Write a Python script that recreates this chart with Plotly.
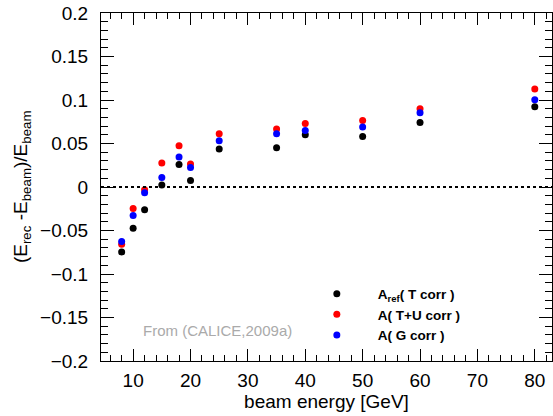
import plotly.graph_objects as go

# ==================== Data ====================
energy = [8, 10, 12, 15, 18, 20, 25, 35, 40, 50, 60, 80]

# A_ref ( T corr )
a_ref_t = [-0.0746, -0.0473, -0.0262, 0.0022, 0.0259, 0.0075, 0.0436, 0.0451, 0.0602, 0.0581, 0.0742, 0.0923]
# A ( T+U corr )
a_tu = [-0.0657, -0.0247, -0.0032, 0.0275, 0.0474, 0.0263, 0.0612, 0.0666, 0.0731, 0.0765, 0.0900, 0.1127]
# A ( G corr )
a_g = [-0.0627, -0.0328, -0.0067, 0.0110, 0.0344, 0.0225, 0.0532, 0.0612, 0.0650, 0.0689, 0.0854, 0.1003]

series_names = ["A<sub>ref</sub>( T corr )", "A( T+U corr )", "A( G corr )"]
series_colors = ["black", "red", "blue"]

FONT = "Liberation Sans, Arial, Helvetica, sans-serif"

fig = go.Figure()

for vals, name, col in zip([a_ref_t, a_tu, a_g], series_names, series_colors):
    fig.add_trace(go.Scatter(
        x=energy, y=vals, mode="markers", name=name,
        marker=dict(color=col, size=7, line=dict(width=0)),
    ))

# dotted zero line
fig.add_shape(type="line", xref="paper", yref="y", x0=0, x1=1, y0=0, y1=0,
              line=dict(color="black", width=2, dash="dot"))

fig.add_annotation(text="From (CALICE,2009a)", xref="paper", yref="paper",
                   x=0.088, y=0.089, xanchor="left", yanchor="middle", showarrow=False,
                   font=dict(family=FONT, size=15, color="#aaaaaa"))

fig.add_annotation(text="(E<sub>rec</sub> -E<sub>beam</sub>)/E<sub>beam</sub>",
                   xref="paper", yref="paper", x=-0.175, y=0.5, textangle=-90,
                   xanchor="center", yanchor="middle", showarrow=False,
                   font=dict(family=FONT, size=19, color="black"))

axis_common = dict(
    showline=True, linecolor="black", linewidth=1, mirror="ticks",
    ticks="inside", tickcolor="black", tickwidth=1,
    showgrid=False, zeroline=False,
    tickfont=dict(family=FONT, size=19, color="black"),
)

fig.update_xaxes(
    range=[4.4, 83], tick0=0, dtick=10, ticklen=12,
    minor=dict(ticks="inside", ticklen=6, dtick=2, tickcolor="black", showgrid=False),
    ticklabelstandoff=2,
    title=dict(text="beam energy [GeV]", font=dict(family=FONT, size=19, color="black"), standoff=4),
    **axis_common,
)
fig.update_yaxes(
    range=[-0.2, 0.2], tick0=0, dtick=0.05, ticklen=13,
    minor=dict(ticks="inside", ticklen=7, dtick=0.01, tickcolor="black", showgrid=False),
    ticklabelstandoff=8,
    **axis_common,
)

fig.update_layout(
    width=553, height=416,
    margin=dict(l=101, r=1, t=13, b=55, autoexpand=False),
    plot_bgcolor="white", paper_bgcolor="white",
    showlegend=True,
    legend=dict(x=0.432, y=0.237, xanchor="left", yanchor="top",
                bgcolor="rgba(0,0,0,0)", borderwidth=0, itemwidth=72,
                font=dict(family=FONT, size=13.5, color="black", weight="bold")),
)

fig.write_html("out.html", config={"displayModeBar": False},
               post_script="document.body.style.margin='0px';")
